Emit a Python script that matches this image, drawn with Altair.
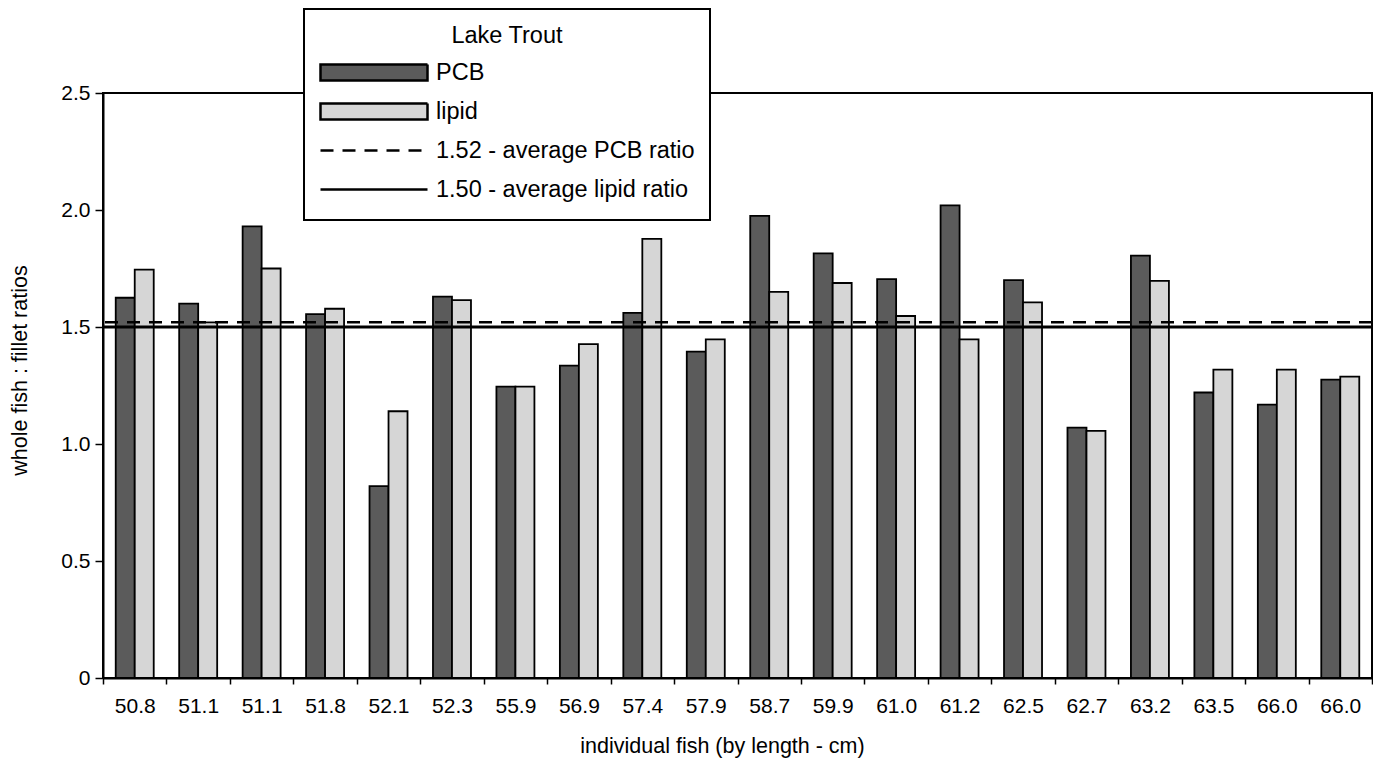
import altair as alt
import pandas as pd

# ---- data ----
lengths = ["50.8", "51.1", "51.1", "51.8", "52.1", "52.3", "55.9", "56.9", "57.4", "57.9",
           "58.7", "59.9", "61.0", "61.2", "62.5", "62.7", "63.2", "63.5", "66.0", "66.0"]
pcb = [1.625, 1.60, 1.93, 1.555, 0.82, 1.63, 1.245, 1.335, 1.56, 1.395,
       1.975, 1.815, 1.705, 2.02, 1.70, 1.07, 1.805, 1.22, 1.168, 1.275]
lipid = [1.745, 1.52, 1.75, 1.578, 1.14, 1.615, 1.245, 1.427, 1.877, 1.447,
         1.65, 1.688, 1.547, 1.447, 1.605, 1.056, 1.697, 1.318, 1.318, 1.288]
series_names = ["PCB", "lipid"]
avg_labels = ["1.52 - average PCB ratio", "1.50 - average lipid ratio"]
avg_values = [1.52, 1.50]
legend_title = "Lake Trout"
y_ticks = [0, 0.5, 1.0, 1.5, 2.0, 2.5]
x_title = "individual fish (by length - cm)"
y_title = "whole fish : fillet ratios"

FONT = "Liberation Sans"

n = len(lengths)
bars_df = pd.DataFrame({
    "idx": list(range(n)) * 2,
    "series": [series_names[0]] * n + [series_names[1]] * n,
    "value": pcb + lipid,
})
avg_df = pd.DataFrame({"series": avg_labels, "value": avg_values})
legend_df = pd.DataFrame({"series": series_names + avg_labels})

domain = series_names + avg_labels
fill_scale = alt.Scale(domain=domain, range=["#5b5b5b", "#d6d6d6", "transparent", "transparent"])
stroke_scale = alt.Scale(domain=domain, range=["black", "black", "black", "black"])
dash_scale = alt.Scale(domain=domain, range=[[1, 0], [1, 0], [13, 9], [1, 0]])
rect_path = "M-1,-0.15L1,-0.15L1,0.15L-1,0.15Z"
line_path = "M-1,0L1,0"
shape_scale = alt.Scale(domain=domain, range=[rect_path, rect_path, line_path, line_path])
y_scale = alt.Scale(domain=[0, 2.5], nice=False, zero=True)

label_expr = "[" + ",".join("'%s'" % s for s in lengths) + "][datum.value]"

x_axis = alt.Axis(
    title=x_title, labelExpr=label_expr, labelAngle=0, tickBand="extent",
    tickSize=6, tickWidth=1.5, tickColor="black", labelPadding=11,
    titleX=619, titleY=57, titleBaseline="top",
)
y_axis = alt.Axis(
    title=y_title, values=y_ticks,
    labelExpr="datum.value == 0 ? '0' : format(datum.value, '.1f')",
    tickSize=8, tickWidth=1.5, tickColor="black", labelPadding=5, grid=False,
    titleX=-72, titleY=277,
)

legend = alt.Legend(
    title=legend_title, orient="none", legendX=201, legendY=-84,
    fillColor="white", strokeColor="black", padding=15,
    titleFontSize=23.5, titleFontWeight="normal", titleFont=FONT, titleColor="black",
    titleAnchor="middle", titlePadding=10,
    labelFontSize=23.5, labelFont=FONT, labelColor="black", labelLimit=500, labelOffset=7,
    symbolSize=11449, symbolStrokeWidth=2.5, symbolStrokeColor="black", symbolOpacity=1,
    clipHeight=30, rowPadding=9,
)

# invisible layer that only carries the combined legend
pts = alt.Chart(legend_df).mark_point(opacity=0, strokeWidth=2.5).encode(
    fill=alt.Fill("series:N", scale=fill_scale, legend=legend),
    stroke=alt.Stroke("series:N", scale=stroke_scale, legend=legend),
    shape=alt.Shape("series:N", scale=shape_scale, legend=legend),
    strokeDash=alt.StrokeDash("series:N", scale=dash_scale, legend=legend),
)

bars = alt.Chart(bars_df).mark_bar(stroke="black", strokeWidth=1.8).encode(
    x=alt.X("idx:O", scale=alt.Scale(paddingInner=0, paddingOuter=0), axis=x_axis),
    xOffset=alt.XOffset("series:N", scale=alt.Scale(domain=series_names, paddingOuter=0.67, paddingInner=0)),
    y=alt.Y("value:Q", scale=y_scale, axis=y_axis),
    fill=alt.Fill("series:N", scale=fill_scale),
)

rules = alt.Chart(avg_df).mark_rule(color="black").encode(
    y=alt.Y("value:Q", scale=y_scale),
    strokeDash=alt.StrokeDash("series:N", scale=dash_scale),
    strokeWidth=alt.condition("datum.value > 1.51", alt.value(2.5), alt.value(3.2)),
)

chart = alt.layer(pts, bars, rules).properties(
    width=1269, height=585,
    padding={"left": 95, "top": 85, "right": 1, "bottom": 84},
    autosize=alt.AutoSizeParams(type="none"),
).configure_view(
    stroke="black", strokeWidth=2,
).configure_axis(
    labelFont=FONT, labelFontSize=21, labelColor="black",
    titleFont=FONT, titleFontSize=21.5, titleFontWeight="normal", titleColor="black",
    domainColor="black", domainWidth=2,
).configure_legend(
    strokeWidth=2,
)

chart.save("out.html", embed_options={"renderer": "svg", "actions": False})
